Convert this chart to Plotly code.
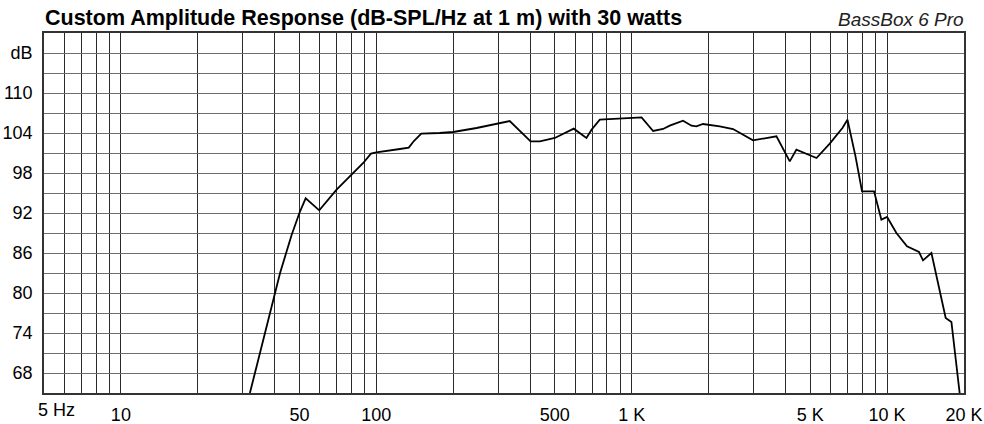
import numpy as np
import plotly.graph_objects as go

# ---- data ----
freq_hz = [32, 40.1, 42, 46.6, 50, 52.9, 59.8, 69.9, 80, 88.9, 95.3, 100,
           123.7, 134, 140.3, 150, 177, 200, 247, 300, 333, 402, 437, 500,
           547, 593, 665, 696, 750, 1013, 1093, 1213, 1327, 1409, 1589, 1714,
           1792, 1902, 2212, 2493, 2985, 3687, 4158, 4414, 5290, 5962, 6332,
           6684, 6995, 7520, 7977, 8888, 9496, 10000, 10872, 11963, 13331,
           13820, 14910, 16955, 17855, 19230]
spl_db = [65, 80, 83, 88.7, 92, 94.2, 92.4, 95.5, 97.7, 99.5, 100.9, 101.1,
          101.6, 101.8, 102.8, 103.9, 104.0, 104.15, 104.75, 105.4, 105.8, 102.75, 102.75, 103.25,
          104.0, 104.65, 103.25, 104.5, 106.0, 106.3, 106.35, 104.3, 104.6, 105.1, 105.85, 105.1,
          105.0, 105.35, 105.0, 104.6, 102.9, 103.5, 99.75, 101.5, 100.25, 102.4, 103.6,
          104.75, 106.0, 100.5, 95.25, 95.25, 91.0, 91.4, 89.0, 87.0, 86.15,
          84.9, 86.0, 76.25, 75.65, 65]

x_labels = {10: "10", 50: "50", 100: "100", 500: "500", 1000: "1 K",
            5000: "5 K", 10000: "10 K", 20000: "20 K"}
first_label = "5 Hz"
y_labels = {68: "68", 74: "74", 80: "80", 86: "86", 92: "92", 98: "98",
            104: "104", 110: "110", 116: "dB"}
title_text = "Custom Amplitude Response (dB-SPL/Hz at 1 m) with 30 watts"
brand_text = "BassBox 6 Pro"

x_min, x_max = 5, 20000
y_min, y_max = 65, 119

# ---- ticks / grid ----
xticks = []
for dec in [1, 10, 100, 1000, 10000]:
    for m in range(1, 10):
        v = m * dec
        if x_min <= v <= x_max:
            xticks.append(v)
xtext = [x_labels.get(v, "") for v in xticks]
yticks = list(range(y_min, y_max + 1, 3))
ytext = [y_labels.get(v, "") for v in yticks]

FONT = "Liberation Sans, Arial, sans-serif"

fig = go.Figure()
fig.add_trace(go.Scatter(x=freq_hz, y=spl_db, mode="lines",
                         line=dict(color="black", width=1.8),
                         hoverinfo="x+y", showlegend=False))

fig.update_layout(
    width=984, height=424,
    margin=dict(l=44, r=20, t=33, b=31, autoexpand=False),
    paper_bgcolor="white", plot_bgcolor="white",
    font=dict(family=FONT, size=18, color="black"),
    xaxis=dict(type="log", range=[np.log10(x_min), np.log10(x_max)],
               tickmode="array", tickvals=xticks, ticktext=xtext,
               showgrid=True, gridcolor="#2a2a2a", gridwidth=1,
               showline=True, linecolor="#333", linewidth=1.5, mirror=True,
               ticks="", zeroline=False, tickfont=dict(size=18),
               ticklabelstandoff=5, automargin=False),
    yaxis=dict(range=[y_min, y_max], tickmode="array", tickvals=yticks,
               ticktext=ytext, showgrid=True, gridcolor="#6e6e6e", gridwidth=1,
               showline=True, linecolor="#333", linewidth=1.5, mirror=True,
               ticks="", zeroline=False, tickfont=dict(size=18),
               ticklabelstandoff=6, automargin=False),
    annotations=[
        dict(text="<b>" + title_text + "</b>", xref="paper", yref="paper",
             x=0, y=1, xanchor="left", yanchor="bottom", yshift=1, xshift=-1,
             showarrow=False, font=dict(family=FONT, size=21.5, color="black")),
        dict(text="<i>" + brand_text + "</i>", xref="paper", yref="paper",
             x=1, y=1, xanchor="right", yanchor="bottom", yshift=1, xshift=2,
             showarrow=False, font=dict(family=FONT, size=19, color="#222")),
        dict(text=first_label, xref="x", yref="paper",
             x=np.log10(x_min), y=0, xanchor="left", yanchor="top",
             xshift=-8, yshift=-5,
             showarrow=False, font=dict(family=FONT, size=18, color="black")),
    ],
)

fig.write_html("out.html")
